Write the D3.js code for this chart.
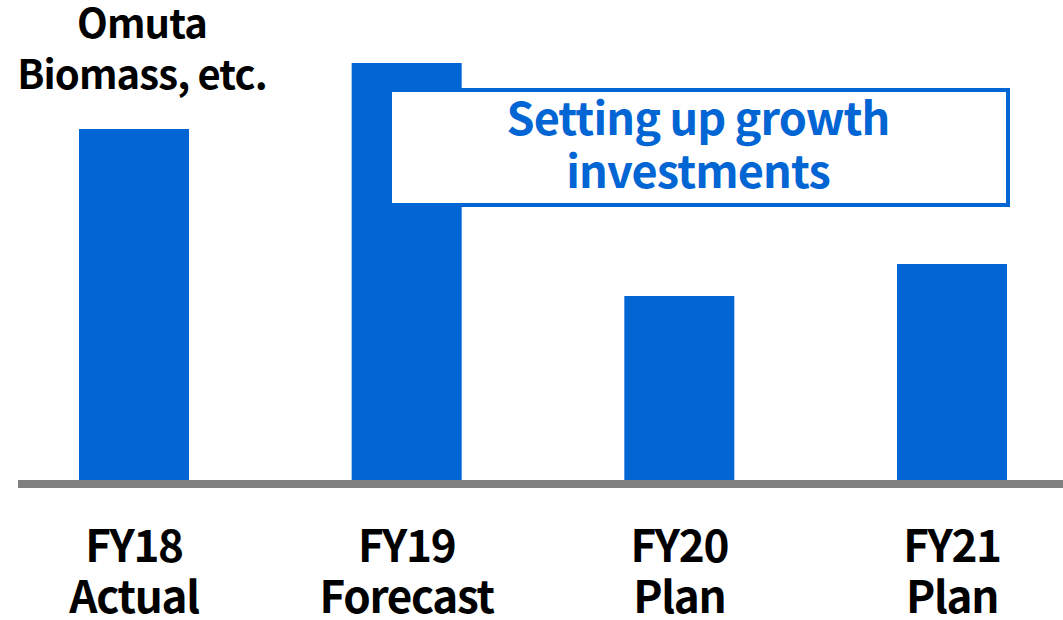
<!DOCTYPE html>
<html>
<head>
<meta charset="utf-8">
<script src="https://cdn.jsdelivr.net/npm/d3@7"></script>
<style>
  html, body { margin: 0; padding: 0; background: #fff; }
  svg { display: block; }
  text { font-family: "Noto Sans CJK JP", "Source Sans Pro", "Noto Sans", sans-serif; font-weight: 700; }
</style>
</head>
<body>
<svg id="chart" width="1063" height="620"></svg>
<script>
// Capital expenditure by fiscal year (relative scale, no axis values shown)
const years = ["FY18", "FY19", "FY20", "FY21"];
const stages = ["Actual", "Forecast", "Plan", "Plan"];
const values = [351, 417, 184, 216];
const noteLines = ["Omuta", "Biomass, etc."];
const calloutLines = ["Setting up growth", "investments"];

const W = 1063, H = 620;
const baseY = 480;
const barColor = "#0265d4";

const svg = d3.select("#chart");

const x = d3.scalePoint().domain(years).range([134, 952]);
const y = d3.scaleLinear().domain([0, 480]).range([baseY, 0]);
const barW = 110;

// bars
svg.append("g").selectAll("rect")
  .data(years)
  .join("rect")
  .attr("x", (d) => x(d) - barW / 2)
  .attr("y", (d, i) => y(values[i]))
  .attr("width", barW)
  .attr("height", (d, i) => baseY - y(values[i]))
  .attr("fill", barColor);

// baseline
svg.append("rect")
  .attr("x", 18).attr("y", baseY)
  .attr("width", W - 18).attr("height", 8)
  .attr("fill", "#808080");

// category labels: year on the first line, stage below
const lab = svg.append("g")
  .attr("font-size", 44)
  .attr("letter-spacing", -1.3)
  .attr("fill", "#000")
  .attr("text-anchor", "middle");
lab.selectAll("text.year")
  .data(years)
  .join("text")
  .attr("class", "year")
  .attr("x", (d) => x(d))
  .attr("y", 562)
  .text((d) => d);
lab.selectAll("text.stage")
  .data(years)
  .join("text")
  .attr("class", "stage")
  .attr("x", (d) => x(d))
  .attr("y", 613)
  .text((d, i) => stages[i]);

// annotation over the first bar
svg.append("g").selectAll("text")
  .data(noteLines)
  .join("text")
  .attr("x", 142)
  .attr("y", (d, i) => 38 + i * 51)
  .attr("text-anchor", "middle")
  .attr("font-size", 40)
  .attr("letter-spacing", -0.9)
  .attr("fill", "#000")
  .text((d) => d);

// callout box
svg.append("rect")
  .attr("x", 390).attr("y", 90)
  .attr("width", 618).attr("height", 115)
  .attr("fill", "#fff")
  .attr("stroke", barColor)
  .attr("stroke-width", 4);

svg.append("g").selectAll("text")
  .data(calloutLines)
  .join("text")
  .attr("x", 698)
  .attr("y", (d, i) => 135 + i * 53)
  .attr("text-anchor", "middle")
  .attr("font-size", 45)
  .attr("letter-spacing", -0.9)
  .attr("fill", barColor)
  .text((d) => d);
</script>
</body>
</html>
